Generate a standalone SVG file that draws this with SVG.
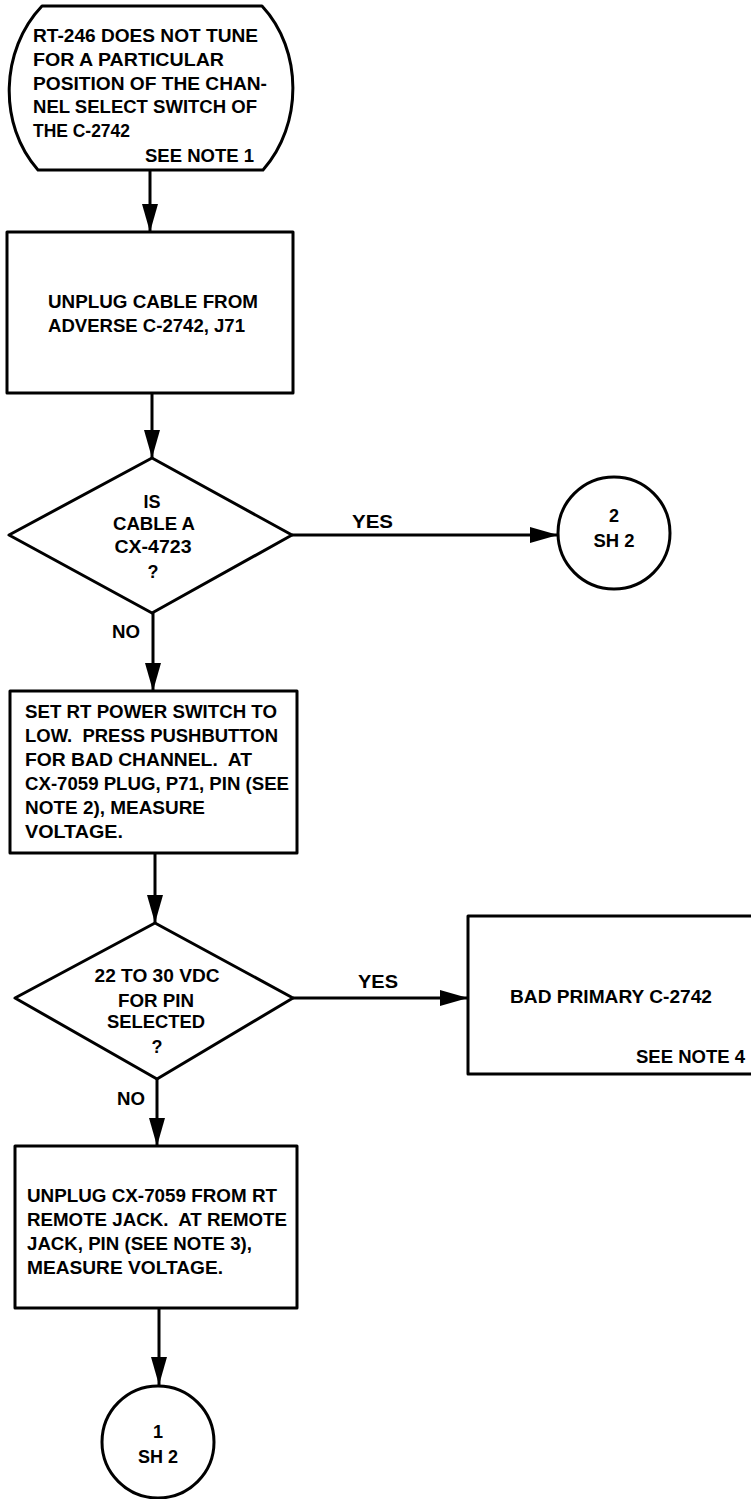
<svg xmlns="http://www.w3.org/2000/svg" width="751" height="1499" viewBox="0 0 751 1499">
<style>
.shape{fill:none;stroke:#000;stroke-width:3;stroke-linejoin:round}
.conn{fill:none;stroke:#000;stroke-width:3}
text{font-family:"Liberation Sans",Arial,sans-serif;font-weight:bold;font-size:18px;fill:#000;white-space:pre}
.c{text-anchor:middle}
</style>
<defs>
<marker id="arr" markerUnits="userSpaceOnUse" markerWidth="28" markerHeight="16" refX="28" refY="8" orient="auto">
<path d="M0,0 L28,8 L0,16 Z" fill="#000"/>
</marker>
</defs>
<rect x="0" y="0" width="751" height="1499" fill="#fff"/>
<g id="connectors">
<line class="conn" x1="150" y1="170" x2="150" y2="232" marker-end="url(#arr)"/>
<line class="conn" x1="152" y1="393" x2="152" y2="458" marker-end="url(#arr)"/>
<line class="conn" x1="292" y1="535" x2="558" y2="535" marker-end="url(#arr)"/>
<text x="352" y="528" textLength="41" lengthAdjust="spacingAndGlyphs">YES</text>
<line class="conn" x1="153" y1="613" x2="153" y2="691" marker-end="url(#arr)"/>
<text x="112" y="638" textLength="28" lengthAdjust="spacingAndGlyphs">NO</text>
<line class="conn" x1="155" y1="853" x2="155" y2="923" marker-end="url(#arr)"/>
<line class="conn" x1="293" y1="998" x2="468" y2="998" marker-end="url(#arr)"/>
<text x="358" y="988" textLength="40" lengthAdjust="spacingAndGlyphs">YES</text>
<line class="conn" x1="157" y1="1079" x2="157" y2="1146" marker-end="url(#arr)"/>
<text x="117" y="1105" textLength="28" lengthAdjust="spacingAndGlyphs">NO</text>
<line class="conn" x1="159" y1="1308" x2="159" y2="1385" marker-end="url(#arr)"/>
</g>
<g id="start">
<path class="shape" d="M42,6 L262,6 C303,50 303,125 263,170 L38,170 C-2,125 0,50 42,6 Z"/>
<text x="33" y="42" textLength="225" lengthAdjust="spacingAndGlyphs">RT-246 DOES NOT TUNE</text>
<text x="33" y="66" textLength="191" lengthAdjust="spacingAndGlyphs">FOR A PARTICULAR</text>
<text x="33" y="90" textLength="234" lengthAdjust="spacingAndGlyphs">POSITION OF THE CHAN-</text>
<text x="33" y="113" textLength="224" lengthAdjust="spacingAndGlyphs">NEL SELECT SWITCH OF</text>
<text x="33" y="137" textLength="97" lengthAdjust="spacingAndGlyphs">THE C-2742</text>
<text x="145" y="162" textLength="109" lengthAdjust="spacingAndGlyphs">SEE NOTE 1</text>
</g>
<g id="unplug-cable">
<rect class="shape" x="7" y="232" width="286" height="161"/>
<text x="48" y="308" textLength="210" lengthAdjust="spacingAndGlyphs">UNPLUG CABLE FROM</text>
<text x="48" y="332" textLength="197" lengthAdjust="spacingAndGlyphs">ADVERSE C-2742, J71</text>
</g>
<g id="is-cable">
<polygon class="shape" points="152,458 292,535 152,613 9,535"/>
<text class="c" x="152" y="508">IS</text>
<text class="c" x="154" y="530" textLength="82" lengthAdjust="spacingAndGlyphs">CABLE A</text>
<text class="c" x="153" y="553" textLength="77" lengthAdjust="spacingAndGlyphs">CX-4723</text>
<text class="c" x="153" y="578">?</text>
</g>
<g id="sheet2-2">
<circle class="shape" cx="614" cy="533" r="56"/>
<text class="c" x="614" y="522">2</text>
<text class="c" x="614" y="547" textLength="41" lengthAdjust="spacingAndGlyphs">SH 2</text>
</g>
<g id="set-rt-power">
<rect class="shape" x="10" y="691" width="287" height="162"/>
<text x="25" y="718" textLength="252" lengthAdjust="spacingAndGlyphs">SET RT POWER SWITCH TO</text>
<text x="25" y="742" textLength="253" lengthAdjust="spacingAndGlyphs">LOW.  PRESS PUSHBUTTON</text>
<text x="25" y="766" textLength="227" lengthAdjust="spacingAndGlyphs">FOR BAD CHANNEL.  AT</text>
<text x="25" y="790" textLength="264" lengthAdjust="spacingAndGlyphs">CX-7059 PLUG, P71, PIN (SEE</text>
<text x="25" y="814" textLength="180" lengthAdjust="spacingAndGlyphs">NOTE 2), MEASURE</text>
<text x="25" y="838" textLength="98" lengthAdjust="spacingAndGlyphs">VOLTAGE.</text>
</g>
<g id="voltage-check">
<polygon class="shape" points="155,923 293,998 157,1079 15,998"/>
<text class="c" x="157" y="982" textLength="125" lengthAdjust="spacingAndGlyphs">22 TO 30 VDC</text>
<text class="c" x="156" y="1007" textLength="76" lengthAdjust="spacingAndGlyphs">FOR PIN</text>
<text class="c" x="156" y="1028" textLength="98" lengthAdjust="spacingAndGlyphs">SELECTED</text>
<text class="c" x="157" y="1053">?</text>
</g>
<g id="bad-primary">
<path class="shape" d="M755,916 L468,916 L468,1074 L755,1074"/>
<text x="510" y="1003" textLength="202" lengthAdjust="spacingAndGlyphs">BAD PRIMARY C-2742</text>
<text x="636" y="1063" textLength="109" lengthAdjust="spacingAndGlyphs">SEE NOTE 4</text>
</g>
<g id="unplug-cx7059">
<rect class="shape" x="15" y="1146" width="282" height="162"/>
<text x="27" y="1202" textLength="250" lengthAdjust="spacingAndGlyphs">UNPLUG CX-7059 FROM RT</text>
<text x="27" y="1226" textLength="260" lengthAdjust="spacingAndGlyphs">REMOTE JACK.  AT REMOTE</text>
<text x="27" y="1250" textLength="225" lengthAdjust="spacingAndGlyphs">JACK, PIN (SEE NOTE 3),</text>
<text x="27" y="1274" textLength="196" lengthAdjust="spacingAndGlyphs">MEASURE VOLTAGE.</text>
</g>
<g id="sheet2-1">
<circle class="shape" cx="158" cy="1442" r="56"/>
<text class="c" x="158" y="1438">1</text>
<text class="c" x="158" y="1463" textLength="40" lengthAdjust="spacingAndGlyphs">SH 2</text>
</g>
</svg>
